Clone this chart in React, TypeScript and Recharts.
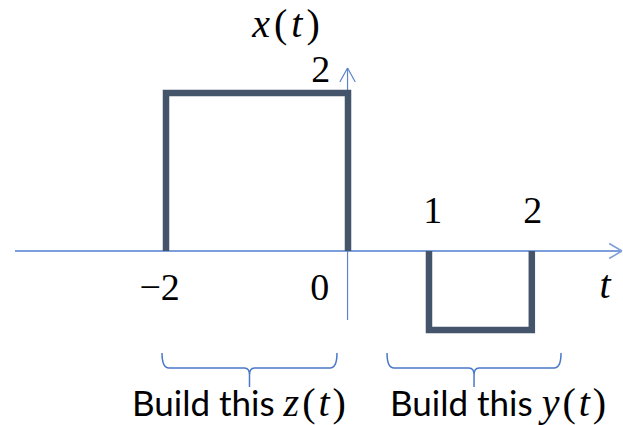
import React from "react";
import {
  ComposedChart,
  Line,
  XAxis,
  YAxis,
  ReferenceLine,
  ReferenceDot,
} from "recharts";

// ---- data ----
const pulseZ_t = [-2, -2, 0, 0];
const pulseZ_v = [0, 2, 2, 0];
const pulseY_t = [0.89, 0.89, 2.02, 2.02];
const pulseY_v = [0, -1, -1, 0];

const tickLabelsBelow = [
  { t: -2.07, v: -0.62, text: "\u22122" },
  { t: -0.31, v: -0.62, text: "0" },
];
const tickLabelsAbove = [
  { t: 0.93, v: 0.355, text: "1" },
  { t: 2.03, v: 0.355, text: "2" },
];
const yTickLabel = { t: -0.3, v: 2.14, text: "2" };

const zData = pulseZ_t.map((t, i) => ({ t, v: pulseZ_v[i] }));
const yData = pulseY_t.map((t, i) => ({ t, v: pulseY_v[i] }));

// ---- view ----
const W = 623;
const H = 425;
const T_DOMAIN: [number, number] = [-3.8242, 3.022];
const V_DOMAIN: [number, number] = [-2.2025, 3.1772];

const SIGNAL = "#44546A";
const AXIS_H = "#7C9EDA";
const AXIS_V = "#5A83CC";
const BRACE = "#4A78C8";
const MATH_FONT = "'Liberation Serif', 'DejaVu Serif', serif";
const TEXT_FONT = "Lato, 'Open Sans', sans-serif";

const mathText = (txt: string, size = 38, anchor: any = "middle") => (p: any) => (
  <text
    x={p.cx}
    y={p.cy}
    textAnchor={anchor}
    fontFamily={MATH_FONT}
    fontSize={size}
    fill="#000"
  >
    {txt}
  </text>
);

const funcLabel = (name: string, size = 40) => (p: any) => (
  <text
    x={p.cx}
    y={p.cy}
    textAnchor="middle"
    fontFamily={MATH_FONT}
    fontSize={size}
    letterSpacing={4}
    fill="#000"
  >
    <tspan fontStyle="italic">{name}</tspan>
    <tspan>(</tspan>
    <tspan fontStyle="italic">t</tspan>
    <tspan>)</tspan>
  </text>
);

const buildLabel = (name: string) => (p: any) => (
  <text x={p.cx} y={p.cy} textAnchor="start" fill="#000">
    <tspan fontFamily={TEXT_FONT} fontSize={35}>Build this </tspan>
    <tspan fontFamily={MATH_FONT} fontSize={40} letterSpacing={3} fontStyle="italic">{name}</tspan>
    <tspan fontFamily={MATH_FONT} fontSize={40} letterSpacing={3}>(</tspan>
    <tspan fontFamily={MATH_FONT} fontSize={40} letterSpacing={3} fontStyle="italic">t</tspan>
    <tspan fontFamily={MATH_FONT} fontSize={40}>)</tspan>
  </text>
);

const braceShape = (p: any) => {
  const { x1, x2, y1 } = p;
  const y = y1;
  const cx = (x1 + x2) / 2;
  const d =
    `M${x1},${y - 15} Q${x1},${y} ${x1 + 7},${y} L${cx - 5},${y} Q${cx},${y} ${cx},${y + 7} L${cx},${y + 19} ` +
    `M${x2},${y - 15} Q${x2},${y} ${x2 - 7},${y} L${cx + 5},${y} Q${cx},${y} ${cx},${y + 7}`;
  return <path d={d} fill="none" stroke={BRACE} strokeWidth={1.5} />;
};

export default function App() {
  return (
    <div style={{ position: "absolute", left: 0, top: 0, background: "#fff" }}>
      <ComposedChart
        width={W}
        height={H}
        margin={{ top: 0, right: 0, bottom: 0, left: 0 }}
      >
        <XAxis type="number" dataKey="t" domain={T_DOMAIN} hide allowDataOverflow />
        <YAxis type="number" dataKey="v" domain={V_DOMAIN} hide allowDataOverflow />

        {/* horizontal axis with arrow */}
        <ReferenceLine
          segment={[{ x: -3.66, y: 0 }, { x: 3.01, y: 0 }]}
          stroke={AXIS_H}
          strokeWidth={2}
          ifOverflow="visible"
        />
        <ReferenceLine
          segment={[{ x: 2.87, y: 0.095 }, { x: 3.01, y: 0 }]}
          stroke={AXIS_H}
          strokeWidth={1.5}
          ifOverflow="visible"
        />
        <ReferenceLine
          segment={[{ x: 2.87, y: -0.095 }, { x: 3.01, y: 0 }]}
          stroke={AXIS_H}
          strokeWidth={1.5}
          ifOverflow="visible"
        />

        {/* vertical axis with arrow */}
        <ReferenceLine
          segment={[{ x: -0.005, y: -0.873 }, { x: -0.005, y: 2.316 }]}
          stroke={AXIS_V}
          strokeWidth={1.2}
          ifOverflow="visible"
        />
        <ReferenceLine
          segment={[{ x: -0.09, y: 2.14 }, { x: -0.005, y: 2.316 }]}
          stroke={AXIS_V}
          strokeWidth={1.2}
          ifOverflow="visible"
        />
        <ReferenceLine
          segment={[{ x: 0.08, y: 2.14 }, { x: -0.005, y: 2.316 }]}
          stroke={AXIS_V}
          strokeWidth={1.2}
          ifOverflow="visible"
        />

        <Line
          data={zData}
          dataKey="v"
          type="linear"
          stroke={SIGNAL}
          strokeWidth={6.5}
          strokeLinejoin="miter"
          strokeLinecap="butt"
          dot={false}
          activeDot={false}
          isAnimationActive={false}
        />
        <Line
          data={yData}
          dataKey="v"
          type="linear"
          stroke={SIGNAL}
          strokeWidth={6.5}
          strokeLinejoin="miter"
          strokeLinecap="butt"
          dot={false}
          activeDot={false}
          isAnimationActive={false}
        />

        {/* braces */}
        <ReferenceLine
          segment={[{ x: -2.044, y: -1.481 }, { x: -0.121, y: -1.481 }]}
          shape={braceShape}
          ifOverflow="visible"
        />
        <ReferenceLine
          segment={[{ x: 0.429, y: -1.481 }, { x: 2.341, y: -1.481 }]}
          shape={braceShape}
          ifOverflow="visible"
        />

        {/* labels */}
        <ReferenceDot x={-0.66} y={2.709} r={0} shape={funcLabel("x")} ifOverflow="visible" />
        <ReferenceDot x={yTickLabel.t} y={yTickLabel.v} r={0} shape={mathText(yTickLabel.text)} ifOverflow="visible" />
        {tickLabelsBelow.map((l, i) => (
          <ReferenceDot key={"b" + i} x={l.t} y={l.v} r={0} shape={mathText(l.text)} ifOverflow="visible" />
        ))}
        {tickLabelsAbove.map((l, i) => (
          <ReferenceDot key={"a" + i} x={l.t} y={l.v} r={0} shape={mathText(l.text)} ifOverflow="visible" />
        ))}
        <ReferenceDot x={2.824} y={-0.595} r={0} shape={(p: any) => (
          <text x={p.cx} y={p.cy} textAnchor="middle" fontFamily={MATH_FONT} fontSize={40} fontStyle="italic">t</text>
        )} ifOverflow="visible" />
        <ReferenceDot x={-2.374} y={-2.089} r={0} shape={buildLabel("z")} ifOverflow="visible" />
        <ReferenceDot x={0.462} y={-2.089} r={0} shape={buildLabel("y")} ifOverflow="visible" />
      </ComposedChart>
    </div>
  );
}
